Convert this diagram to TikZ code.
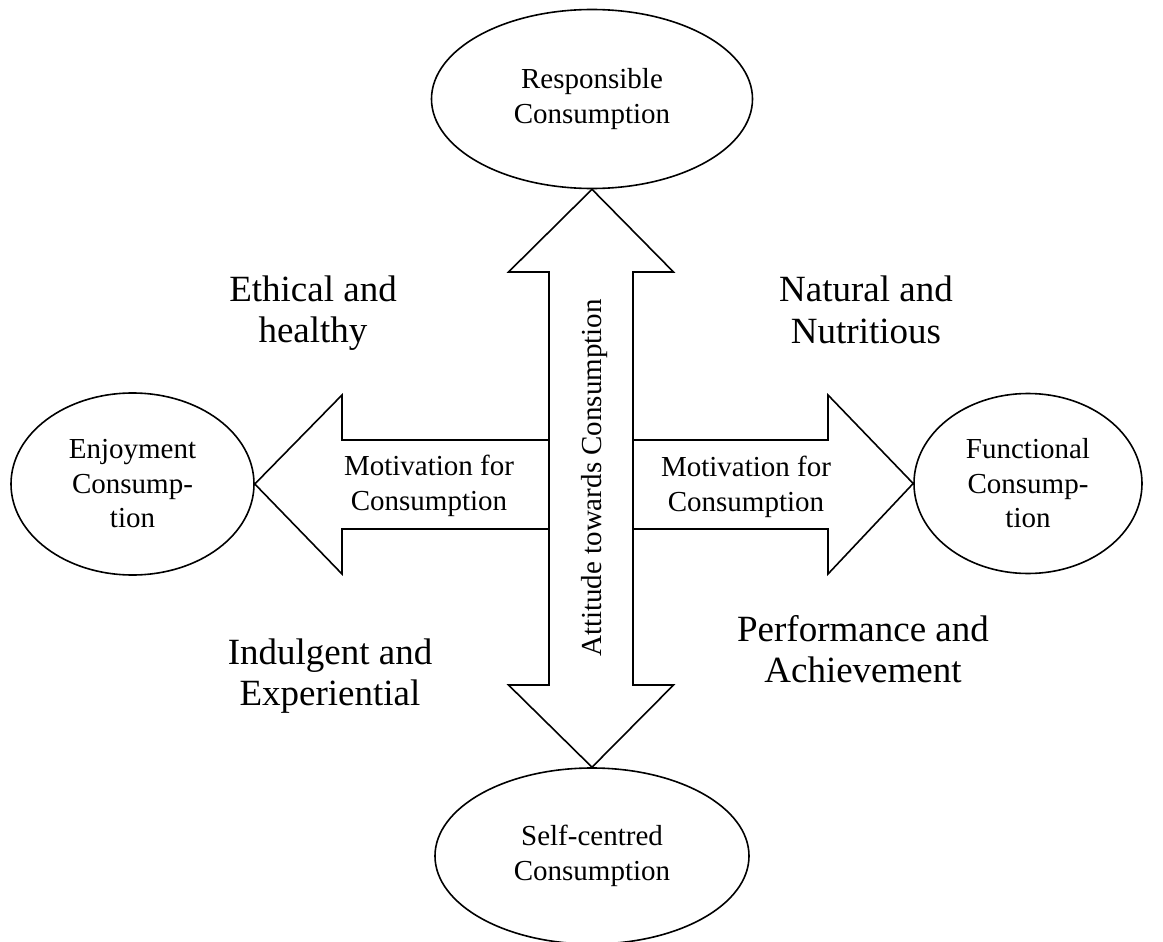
\documentclass[tikz,border=0pt]{standalone}
\usepackage{fontspec}
\setmainfont{Liberation Serif}
\usetikzlibrary{shapes.geometric,calc}
\begin{document}
\begin{tikzpicture}[x=1pt,y=-1pt,
  pole/.style={draw, ellipse, line width=1.6pt, inner sep=0pt,
    font=\fontsize{29}{34.5}\selectfont, align=center},
  blockarrow/.style={draw, fill=white, line width=1.6pt, line join=miter},
  small/.style={font=\fontsize{29}{34.5}\selectfont, align=center, inner sep=0pt},
  big/.style={font=\fontsize{37}{41.5}\selectfont, align=center, inner sep=0pt}]
\useasboundingbox (0,0) rectangle (1163,942);

% the four poles
\node[pole, minimum width=321pt, minimum height=179pt] (resp) at (592,99) {Responsible\\Consumption};
\node[pole, minimum width=314pt, minimum height=176pt] (self) at (592,856) {Self-centred\\Consumption};
\node[pole, minimum width=243pt, minimum height=182pt] (enj) at (132.5,484) {Enjoyment\\Consump-\\tion};
\node[pole, minimum width=228pt, minimum height=180pt] (func) at (1028,483.5) {Functional\\Consump-\\tion};

% horizontal block arrows (tails meet the vertical shaft)
\draw[blockarrow] (549,440) -- (342,440) -- (342,395) -- (enj.east)
  -- (342,574) -- (342,529) -- (549,529);
\draw[blockarrow] (633,440) -- (828,440) -- (828,395) -- (func.west)
  -- (828,574) -- (828,529) -- (633,529);

% vertical double block arrow
\draw[blockarrow] (resp.south) -- (673.5,272) -- (633,272) -- (633,685)
  -- (673.5,685) -- (self.north) -- (508.5,685) -- (549,685)
  -- (549,272) -- (508.5,272) -- cycle;

% labels
\node[small] (motl) at (429,486) {Motivation for\\Consumption};
\node[small] (motr) at (746,487) {Motivation for\\Consumption};
\node[small, rotate=90] (att) at (595,478) {Attitude towards Consumption};
\node[big] (eth) at (313,313) {Ethical and\\healthy};
\node[big] (nat) at (866,310) {Natural and\\Nutritious};
\node[big] (ind) at (330,676) {Indulgent and\\Experiential};
\node[big] (perf) at (863,649) {Performance and\\Achievement};
\end{tikzpicture}
\end{document}
